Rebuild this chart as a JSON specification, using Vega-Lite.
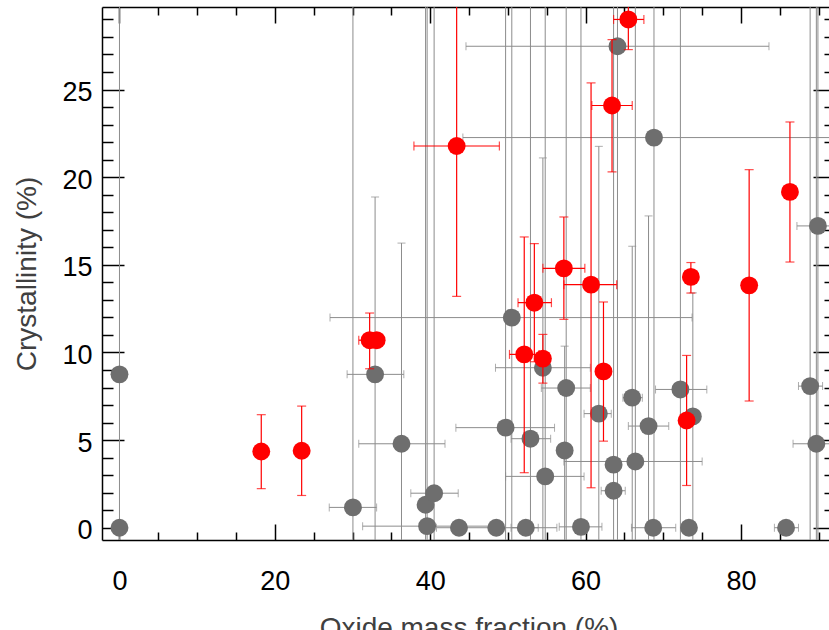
{
  "$schema": "https://vega.github.io/schema/vega-lite/v6.json",
  "width": 733,
  "height": 533,
  "autosize": "none",
  "padding": {"left": 102, "top": 7, "right": -6, "bottom": 90},
  "config": {"view": {"stroke": null}},
  "data": {"values": [
    {"g":"gray","x":0,"y":0,"ylo":-5,"yhi":40},
    {"g":"gray","x":0,"y":8.75},
    {"g":"gray","x":30.05,"y":1.16,"xlo":27.0,"xhi":33.1,"ylo":-5,"yhi":40},
    {"g":"gray","x":32.9,"y":8.75,"xlo":29.3,"xhi":36.6,"ylo":-5,"yhi":18.87},
    {"g":"gray","x":36.3,"y":4.79,"xlo":30.8,"xhi":41.9,"ylo":-5,"yhi":16.24},
    {"g":"gray","x":39.4,"y":1.31,"ylo":-5,"yhi":40},
    {"g":"gray","x":40.5,"y":1.97,"xlo":37.5,"xhi":43.6,"ylo":-5,"yhi":40},
    {"g":"gray","x":39.6,"y":0.09,"xlo":31.3,"xhi":47.9,"ylo":-5,"yhi":40},
    {"g":"gray","x":43.7,"y":0},
    {"g":"gray","x":48.5,"y":0,"xlo":40.8,"xhi":56.3},
    {"g":"gray","x":52.3,"y":0,"xlo":50.4,"xhi":53.9},
    {"g":"gray","x":59.4,"y":0.05,"xlo":56.6,"xhi":62.1,"ylo":-5,"yhi":40},
    {"g":"gray","x":68.7,"y":0,"xlo":65.9,"xhi":71.6},
    {"g":"gray","x":73.3,"y":0},
    {"g":"gray","x":85.8,"y":0,"xlo":84.3,"xhi":87.4},
    {"g":"gray","x":49.7,"y":5.71,"xlo":43.3,"xhi":56.0,"ylo":-5,"yhi":40},
    {"g":"gray","x":50.5,"y":11.99,"xlo":27.1,"xhi":73.7,"ylo":-5,"yhi":40},
    {"g":"gray","x":52.9,"y":5.08,"xlo":50.4,"xhi":55.5,"ylo":-5,"yhi":40},
    {"g":"gray","x":54.5,"y":9.13,"xlo":48.4,"xhi":60.6,"ylo":-5,"yhi":21.1},
    {"g":"gray","x":54.8,"y":2.93,"xlo":49.7,"xhi":59.8,"ylo":-5,"yhi":40},
    {"g":"gray","x":57.5,"y":7.97,"xlo":54.3,"xhi":60.6,"ylo":-5,"yhi":40},
    {"g":"gray","x":57.3,"y":4.41,"ylo":-1.5,"yhi":10.36},
    {"g":"gray","x":61.7,"y":6.51,"xlo":59.8,"xhi":63.3,"ylo":-8.7,"yhi":21.76},
    {"g":"gray","x":63.6,"y":3.6,"ylo":-5,"yhi":40},
    {"g":"gray","x":63.6,"y":2.11,"xlo":62.0,"xhi":65.1},
    {"g":"gray","x":64.1,"y":27.47,"xlo":44.6,"xhi":83.6,"ylo":-5,"yhi":40},
    {"g":"gray","x":66.0,"y":7.42,"xlo":64.8,"xhi":67.3,"ylo":-1.2,"yhi":16.06},
    {"g":"gray","x":66.4,"y":3.78,"xlo":57.2,"xhi":75.0,"ylo":-5,"yhi":40},
    {"g":"gray","x":68.1,"y":5.8,"xlo":65.5,"xhi":70.7,"ylo":-6.2,"yhi":17.79},
    {"g":"gray","x":68.8,"y":22.26,"xlo":44.2,"xhi":93.4,"ylo":-5,"yhi":40},
    {"g":"gray","x":72.2,"y":7.89,"xlo":69.0,"xhi":75.6,"ylo":-5,"yhi":40},
    {"g":"gray","x":73.8,"y":6.35,"ylo":-1,"yhi":13.4},
    {"g":"gray","x":88.9,"y":8.08,"xlo":87.4,"xhi":90.5,"ylo":-5,"yhi":40},
    {"g":"gray","x":89.9,"y":17.22,"xlo":87.2,"xhi":92.6,"ylo":-5,"yhi":40},
    {"g":"gray","x":89.7,"y":4.79,"xlo":86.7,"xhi":92.7,"ylo":-5,"yhi":40},
    {"g":"red","x":18.25,"y":4.35,"ylo":2.23,"yhi":6.45},
    {"g":"red","x":23.45,"y":4.39,"ylo":1.84,"yhi":6.94},
    {"g":"red","x":32.2,"y":10.7,"xlo":30.8,"xhi":33.6,"ylo":9.07,"yhi":12.25},
    {"g":"red","x":33.1,"y":10.7},
    {"g":"red","x":43.4,"y":21.78,"xlo":37.9,"xhi":48.9,"ylo":13.2,"yhi":30.4},
    {"g":"red","x":65.5,"y":29.0,"xlo":63.6,"xhi":67.5,"ylo":27.28,"yhi":30.72},
    {"g":"red","x":63.4,"y":24.09,"xlo":60.8,"xhi":66.0,"ylo":20.3,"yhi":27.85},
    {"g":"red","x":60.7,"y":13.87,"xlo":57.2,"xhi":64.0,"ylo":2.28,"yhi":25.38},
    {"g":"red","x":57.2,"y":14.8,"xlo":54.5,"xhi":59.9,"ylo":11.89,"yhi":17.73},
    {"g":"red","x":53.4,"y":12.84,"xlo":51.3,"xhi":55.6,"ylo":9.47,"yhi":16.21},
    {"g":"red","x":52.1,"y":9.89,"xlo":50.2,"xhi":54.0,"ylo":3.14,"yhi":16.59},
    {"g":"red","x":54.5,"y":9.65,"ylo":8.25,"yhi":11.03},
    {"g":"red","x":62.3,"y":8.92,"ylo":4.94,"yhi":12.88},
    {"g":"red","x":73.0,"y":6.12,"ylo":2.41,"yhi":9.83},
    {"g":"red","x":73.55,"y":14.31,"ylo":13.39,"yhi":15.13},
    {"g":"red","x":81.05,"y":13.83,"ylo":7.23,"yhi":20.43},
    {"g":"red","x":86.3,"y":19.16,"ylo":15.16,"yhi":23.15}
  ]},
  "resolve": {"axis": {"x": "independent", "y": "independent"}},
  "layer": [
    {
      "transform": [{"filter": "datum.g == 'gray' && isValid(datum.xlo)"}],
      "mark": {"type": "rule", "color": "#8c8c8c", "strokeWidth": 1, "clip": true},
      "encoding": {
        "x": {"field": "xlo", "type": "quantitative", "scale": {"domain": [-2.25, 92.1], "nice": false, "zero": false}, "axis": null},
        "x2": {"field": "xhi"},
        "y": {"field": "y", "type": "quantitative", "scale": {"domain": [-0.7, 29.71], "nice": false, "zero": false}, "axis": null}
      }
    },
    {
      "transform": [{"filter": "datum.g == 'gray' && isValid(datum.ylo)"}],
      "mark": {"type": "rule", "color": "#8c8c8c", "strokeWidth": 1, "clip": true},
      "encoding": {
        "x": {"field": "x", "type": "quantitative", "scale": {"domain": [-2.25, 92.1], "nice": false, "zero": false},
          "axis": {"orient": "bottom", "values": [0,5,10,15,20,25,30,35,40,45,50,55,60,65,70,75,80,85,90],
            "labelExpr": "datum.value % 20 == 0 ? datum.label : ''",
            "tickSize": {"condition": {"test": "datum.value % 20 == 0", "value": -16}, "value": -8},
            "tickWidth": 1.5, "tickColor": "#000", "domainColor": "#000", "domainWidth": 1.5,
            "labelFont": "Liberation Sans", "labelFontSize": 27, "labelColor": "#000", "labelPadding": 44,
            "labelFlush": false, "labelOverlap": false, "grid": false,
            "title": "Oxide mass fraction (%)", "titleFont": "Liberation Sans", "titleFontSize": 28,
            "titleFontWeight": "normal", "titleColor": "#404040", "titlePadding": 12}},
        "y": {"field": "ylo", "type": "quantitative", "scale": {"domain": [-0.7, 29.71], "nice": false, "zero": false},
          "axis": {"orient": "left", "values": [0,1,2,3,4,5,6,7,8,9,10,11,12,13,14,15,16,17,18,19,20,21,22,23,24,25,26,27,28,29],
            "labelExpr": "datum.value % 5 == 0 ? datum.label : ''",
            "tickSize": {"condition": {"test": "datum.value % 5 == 0", "value": -22}, "value": -11},
            "tickWidth": 1.5, "tickColor": "#000", "domainColor": "#000", "domainWidth": 1.5,
            "labelFont": "Liberation Sans", "labelFontSize": 27, "labelColor": "#000", "labelPadding": 32, "labelOffset": 3,
            "labelFlush": false, "labelOverlap": false, "grid": false,
            "title": "Crystallinity (%)", "titleFont": "Liberation Sans", "titleFontSize": 28,
            "titleFontWeight": "normal", "titleColor": "#404040", "titlePadding": 20}},
        "y2": {"field": "yhi"}
      }
    },
    {
      "transform": [{"filter": "datum.g == 'gray' && isValid(datum.xlo)"}, {"fold": ["xlo", "xhi"], "as": ["k", "v"]}],
      "mark": {"type": "tick", "orient": "vertical", "color": "#8c8c8c", "size": 8, "thickness": 1, "clip": true},
      "encoding": {
        "x": {"field": "v", "type": "quantitative", "scale": {"domain": [-2.25, 92.1], "nice": false, "zero": false}, "axis": null},
        "y": {"field": "y", "type": "quantitative", "scale": {"domain": [-0.7, 29.71], "nice": false, "zero": false}, "axis": null}
      }
    },
    {
      "transform": [{"filter": "datum.g == 'gray' && isValid(datum.ylo)"}, {"fold": ["ylo", "yhi"], "as": ["k", "v"]}],
      "mark": {"type": "tick", "orient": "horizontal", "color": "#8c8c8c", "size": 8, "thickness": 1, "clip": true},
      "encoding": {
        "x": {"field": "x", "type": "quantitative", "scale": {"domain": [-2.25, 92.1], "nice": false, "zero": false}, "axis": null},
        "y": {"field": "v", "type": "quantitative", "scale": {"domain": [-0.7, 29.71], "nice": false, "zero": false}, "axis": null}
      }
    },
    {
      "transform": [{"filter": "datum.g == 'gray'"}],
      "mark": {"type": "point", "shape": "circle", "filled": true, "color": "#6e6e6e", "opacity": 1, "size": 320, "clip": true},
      "encoding": {
        "x": {"field": "x", "type": "quantitative", "scale": {"domain": [-2.25, 92.1], "nice": false, "zero": false},
          "axis": {"orient": "top", "values": [0,5,10,15,20,25,30,35,40,45,50,55,60,65,70,75,80,85,90], "labels": false, "title": null,
            "tickSize": {"condition": {"test": "datum.value % 20 == 0", "value": -16}, "value": -8},
            "tickWidth": 1.5, "tickColor": "#000", "domainColor": "#000", "domainWidth": 1.5, "grid": false}},
        "y": {"field": "y", "type": "quantitative", "scale": {"domain": [-0.7, 29.71], "nice": false, "zero": false},
          "axis": {"orient": "right", "values": [0,1,2,3,4,5,6,7,8,9,10,11,12,13,14,15,16,17,18,19,20,21,22,23,24,25,26,27,28,29], "labels": false, "title": null,
            "tickSize": {"condition": {"test": "datum.value % 5 == 0", "value": -22}, "value": -11},
            "tickWidth": 1.5, "tickColor": "#000", "domainColor": "#000", "domainWidth": 1.5, "grid": false}}
      }
    },
    {
      "transform": [{"filter": "datum.g == 'red' && isValid(datum.xlo)"}],
      "mark": {"type": "rule", "color": "#ff0000", "strokeWidth": 1.2, "clip": true},
      "encoding": {
        "x": {"field": "xlo", "type": "quantitative", "scale": {"domain": [-2.25, 92.1], "nice": false, "zero": false}, "axis": null},
        "x2": {"field": "xhi"},
        "y": {"field": "y", "type": "quantitative", "scale": {"domain": [-0.7, 29.71], "nice": false, "zero": false}, "axis": null}
      }
    },
    {
      "transform": [{"filter": "datum.g == 'red' && isValid(datum.ylo)"}],
      "mark": {"type": "rule", "color": "#ff0000", "strokeWidth": 1.2, "clip": true},
      "encoding": {
        "x": {"field": "x", "type": "quantitative", "scale": {"domain": [-2.25, 92.1], "nice": false, "zero": false}, "axis": null},
        "y": {"field": "ylo", "type": "quantitative", "scale": {"domain": [-0.7, 29.71], "nice": false, "zero": false}, "axis": null},
        "y2": {"field": "yhi"}
      }
    },
    {
      "transform": [{"filter": "datum.g == 'red' && isValid(datum.xlo)"}, {"fold": ["xlo", "xhi"], "as": ["k", "v"]}],
      "mark": {"type": "tick", "orient": "vertical", "color": "#ff0000", "size": 9, "thickness": 1.2, "clip": true},
      "encoding": {
        "x": {"field": "v", "type": "quantitative", "scale": {"domain": [-2.25, 92.1], "nice": false, "zero": false}, "axis": null},
        "y": {"field": "y", "type": "quantitative", "scale": {"domain": [-0.7, 29.71], "nice": false, "zero": false}, "axis": null}
      }
    },
    {
      "transform": [{"filter": "datum.g == 'red' && isValid(datum.ylo)"}, {"fold": ["ylo", "yhi"], "as": ["k", "v"]}],
      "mark": {"type": "tick", "orient": "horizontal", "color": "#ff0000", "size": 9, "thickness": 1.2, "clip": true},
      "encoding": {
        "x": {"field": "x", "type": "quantitative", "scale": {"domain": [-2.25, 92.1], "nice": false, "zero": false}, "axis": null},
        "y": {"field": "v", "type": "quantitative", "scale": {"domain": [-0.7, 29.71], "nice": false, "zero": false}, "axis": null}
      }
    },
    {
      "transform": [{"filter": "datum.g == 'red'"}],
      "mark": {"type": "point", "shape": "circle", "filled": true, "color": "#ff0000", "opacity": 1, "size": 320, "clip": true},
      "encoding": {
        "x": {"field": "x", "type": "quantitative", "scale": {"domain": [-2.25, 92.1], "nice": false, "zero": false}, "axis": null},
        "y": {"field": "y", "type": "quantitative", "scale": {"domain": [-0.7, 29.71], "nice": false, "zero": false}, "axis": null}
      }
    }
  ]
}
